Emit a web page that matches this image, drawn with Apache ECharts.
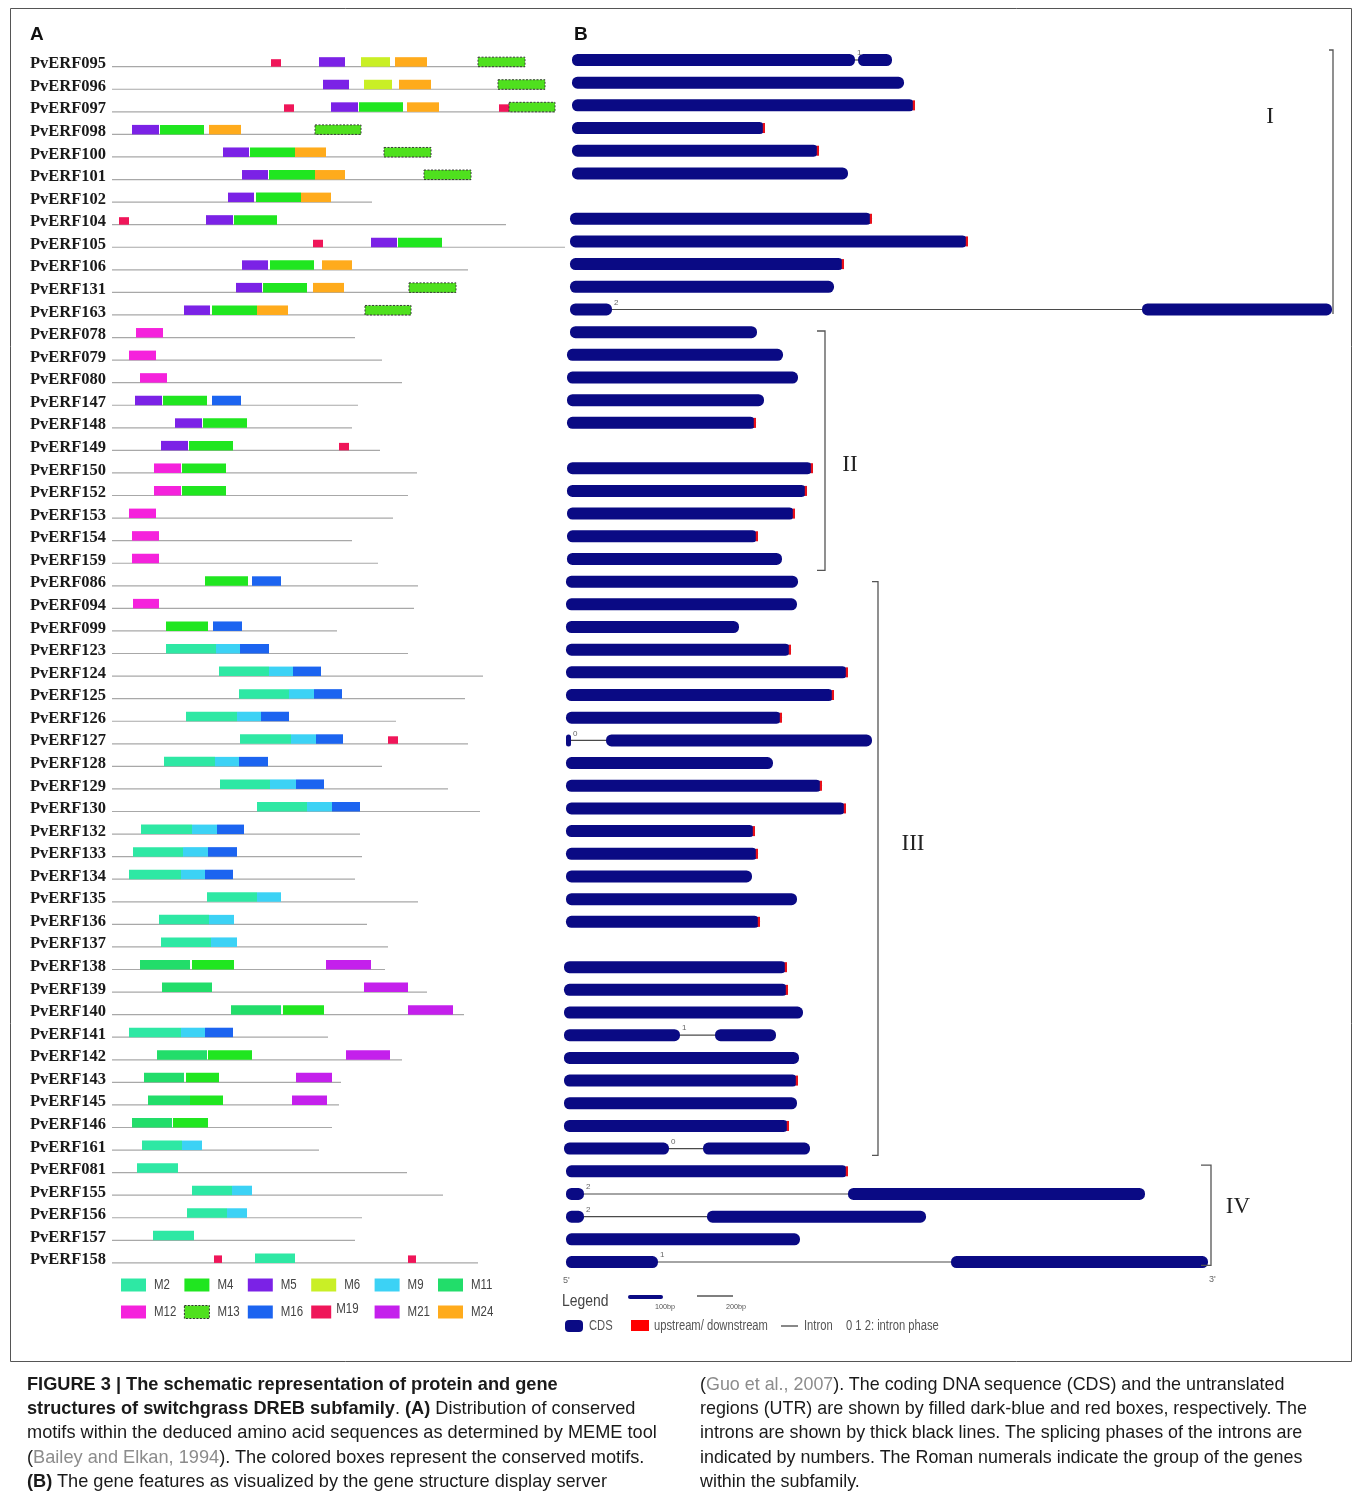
<!DOCTYPE html>
<html><head><meta charset="utf-8">
<script src="https://cdn.jsdelivr.net/npm/echarts@6/dist/echarts.min.js"></script>
<style>
html,body{margin:0;padding:0;background:#fff;}
#chart{position:absolute;left:0;top:0;width:1357px;height:1509px;}
.cap{position:absolute;font-family:'Liberation Sans',Arial,sans-serif;font-size:18.2px;color:#1a1a1a;white-space:nowrap;line-height:20px;}
.cap.r{font-size:17.9px;}
.cap b{font-weight:bold;}
.cap .ref{color:#8c8c8c;}
</style></head><body>
<div id="chart"></div>
<div class="cap" style="left:27px;top:1374px;"><b>FIGURE 3 | The schematic representation of protein and gene</b></div>
<div class="cap" style="left:27px;top:1398px;"><b>structures of switchgrass DREB subfamily</b>. <b>(A)</b> Distribution of conserved</div>
<div class="cap" style="left:27px;top:1422px;">motifs within the deduced amino acid sequences as determined by MEME tool</div>
<div class="cap" style="left:27px;top:1447px;">(<span class="ref">Bailey and Elkan, 1994</span>). The colored boxes represent the conserved motifs.</div>
<div class="cap" style="left:27px;top:1471px;"><b>(B)</b> The gene features as visualized by the gene structure display server</div>
<div class="cap r" style="left:700px;top:1374px;">(<span class="ref">Guo et al., 2007</span>). The coding DNA sequence (CDS) and the untranslated</div>
<div class="cap r" style="left:700px;top:1398px;">regions (UTR) are shown by filled dark-blue and red boxes, respectively. The</div>
<div class="cap r" style="left:700px;top:1422px;">introns are shown by thick black lines. The splicing phases of the introns are</div>
<div class="cap r" style="left:700px;top:1447px;">indicated by numbers. The Roman numerals indicate the group of the genes</div>
<div class="cap r" style="left:700px;top:1471px;">within the subfamily.</div>
<script>
const genes = ['PvERF095','PvERF096','PvERF097','PvERF098','PvERF100','PvERF101','PvERF102','PvERF104','PvERF105','PvERF106','PvERF131','PvERF163',
  'PvERF078','PvERF079','PvERF080','PvERF147','PvERF148','PvERF149','PvERF150','PvERF152','PvERF153','PvERF154','PvERF159',
  'PvERF086','PvERF094','PvERF099','PvERF123','PvERF124','PvERF125','PvERF126','PvERF127','PvERF128','PvERF129','PvERF130',
  'PvERF132','PvERF133','PvERF134','PvERF135','PvERF136','PvERF137','PvERF138','PvERF139','PvERF140','PvERF141','PvERF142',
  'PvERF143','PvERF145','PvERF146','PvERF161','PvERF081','PvERF155','PvERF156','PvERF157','PvERF158'];

// protein lengths (panel A scale)
const protLen = [413,433,443,249,319,359,260,394,453,356,344,299,
  243,270,290,246,240,268,305,296,281,240,266,
  306,302,225,296,371,353,284,356,270,336,368,
  248,250,243,306,255,276,273,315,352,216,290,
  229,227,220,207,295,331,250,243,366];

const motifNames = ['M2','M4','M5','M6','M9','M11','M12','M13','M16','M19','M21','M24'];
const motifColors = ['#2ee8a4','#20e620','#7b22e6','#c9ef26','#3cd2f5','#22dd6a','#f522dc','#4fe01e','#1c64f0','#ef1659','#c420ec','#ffab1c'];

// motifs per protein: [motif, start, end]
const motifs = [
  [['M19',159,169],['M5',207,233],['M6',249,278],['M24',283,315],['M13',366,413]],
  [['M5',211,237],['M6',252,280],['M24',287,319],['M13',386,433]],
  [['M19',172,182],['M5',219,246],['M4',247,291],['M24',295,327],['M19',387,397],['M13',397,443]],
  [['M5',20,47],['M4',48,92],['M24',97,129],['M13',203,249]],
  [['M5',111,137],['M4',138,183],['M24',183,214],['M13',272,319]],
  [['M5',130,156],['M4',157,203],['M24',203,233],['M13',312,359]],
  [['M5',116,142],['M4',144,189],['M24',189,219]],
  [['M19',7,17],['M5',94,121],['M4',122,165]],
  [['M19',201,211],['M5',259,285],['M4',286,330]],
  [['M5',130,156],['M4',158,202],['M24',210,240]],
  [['M5',124,150],['M4',151,195],['M24',201,232],['M13',297,344]],
  [['M5',72,98],['M4',100,145],['M24',145,176],['M13',253,299]],
  [['M12',24,51]],
  [['M12',17,44]],
  [['M12',28,55]],
  [['M5',23,50],['M4',51,95],['M16',100,129]],
  [['M5',63,90],['M4',91,135]],
  [['M5',49,76],['M4',77,121],['M19',227,237]],
  [['M12',42,69],['M4',70,114]],
  [['M12',42,69],['M4',70,114]],
  [['M12',17,44]],
  [['M12',20,47]],
  [['M12',20,47]],
  [['M4',93,136],['M16',140,169]],
  [['M12',21,47]],
  [['M4',54,96],['M16',101,130]],
  [['M2',54,104],['M9',104,128],['M16',128,157]],
  [['M2',107,157],['M9',157,181],['M16',181,209]],
  [['M2',127,177],['M9',177,202],['M16',202,230]],
  [['M2',74,125],['M9',125,149],['M16',149,177]],
  [['M2',128,179],['M9',179,204],['M16',204,231],['M19',276,286]],
  [['M2',52,103],['M9',103,127],['M16',127,156]],
  [['M2',108,158],['M9',158,184],['M16',184,212]],
  [['M2',145,195],['M9',195,220],['M16',220,248]],
  [['M2',29,80],['M9',80,105],['M16',105,132]],
  [['M2',21,71],['M9',71,96],['M16',96,125]],
  [['M2',17,69],['M9',69,93],['M16',93,121]],
  [['M2',95,145],['M9',145,169]],
  [['M2',47,97],['M9',97,122]],
  [['M2',49,99],['M9',99,125]],
  [['M11',28,78],['M4',80,122],['M21',214,259]],
  [['M11',50,100],['M21',252,296]],
  [['M11',119,169],['M4',171,212],['M21',296,341]],
  [['M2',17,69],['M9',69,93],['M16',93,121]],
  [['M11',45,95],['M4',96,140],['M21',234,278]],
  [['M11',32,72],['M4',74,107],['M21',184,220]],
  [['M11',36,78],['M4',78,111],['M21',180,215]],
  [['M11',20,60],['M4',61,96]],
  [['M2',30,70],['M9',70,90]],
  [['M2',25,66]],
  [['M2',80,120],['M9',120,140]],
  [['M2',75,115],['M9',115,135]],
  [['M2',41,82]],
  [['M19',102,110],['M2',143,183],['M19',296,304]]
];

// gene structures (panel B scale): exons [start, end]
const exons = [
  [[12,295],[298,332]],[[12,344]],[[12,355]],[[12,205]],[[12,259]],[[12,288]],[],[[10,312]],[[10,408]],[[10,284]],[[10,274]],[[10,52],[582,772]],
  [[10,197]],[[7,223]],[[7,238]],[[7,204]],[[7,196]],[],[[7,253]],[[7,247]],[[7,235]],[[7,198]],[[7,222]],
  [[6,238]],[[6,237]],[[6,179]],[[6,231]],[[6,288]],[[6,274]],[[6,222]],[[6,11],[46,312]],[[6,213]],[[6,262]],[[6,286]],
  [[6,195]],[[6,198]],[[6,192]],[[6,237]],[[6,200]],[],[[4,227]],[[4,228]],[[4,243]],[[4,120],[155,216]],[[4,239]],
  [[4,238]],[[4,237]],[[4,229]],[[4,109],[143,250]],[[6,288]],[[6,24],[288,585]],[[6,24],[147,366]],[[6,240]],[[6,98],[391,648]]
];
const phases = ['1','','','','','','','','','','','2',
  '','','','','','','','','','','',
  '','','','','','','','0','','','',
  '','','','','','','','','','1','',
  '','','','0','','2','2','','1'];
const utr3 = [0,0,1,1,1,0,0,1,1,1,0,0,
  0,0,0,0,1,0,1,1,1,1,0,
  0,0,0,1,1,1,1,0,0,1,1,
  1,1,0,0,1,0,1,1,0,0,0,
  1,0,1,0,1,0,0,0,0];

const groupNames = ['I','II','III','IV'];
const groupFirst = ['PvERF095','PvERF078','PvERF086','PvERF081'];
const groupLast = ['PvERF163','PvERF159','PvERF161','PvERF158'];
const groupX = [773,265,318,651];
const groupLabelX = [710,290,353,678];
const groupLabelRow = [2.51,17.86,34.57,50.57];

const legendRowsA = [['M2','M4','M5','M6','M9','M11'],['M12','M13','M16','M19','M21','M24']];

const NAVY = '#0a0a84';
const SANS = "'Liberation Sans',Arial,sans-serif";
const groupTopPad = [-0.44, -0.05, 0, -0.27];
const groupBotPad = [0.2, 0.5, 0.3, 0.15];
const groupTick = [4, 8, 6, 10];

const motifData = [];
motifs.forEach((list, i) => list.forEach(m => motifData.push([i, m[1], m[2], motifNames.indexOf(m[0])])));
const protData = protLen.map((l, i) => [i, 0, l]);
const geneData = [];
exons.forEach((e, i) => { if (e.length) geneData.push([i, e[0][0], e[e.length - 1][1]]); });
const groupData = groupNames.map((g, k) => [genes.indexOf(groupFirst[k]), genes.indexOf(groupLast[k]), groupX[k], groupLabelX[k], groupLabelRow[k], k]);

function renderProt(params, api) {
  const row = api.value(0);
  const a = api.coord([api.value(1), row]);
  const b = api.coord([api.value(2), row]);
  const y = a[1] + 2.7;
  return { type: 'line', shape: { x1: a[0], y1: y, x2: b[0], y2: y }, style: { stroke: '#a8a8a8', lineWidth: 1.2 } };
}
function renderMotif(params, api) {
  const row = api.value(0), m = api.value(3);
  const a = api.coord([api.value(1), row]);
  const b = api.coord([api.value(2), row]);
  const name = motifNames[m];
  const h = name === 'M19' ? 7.5 : 9.5;
  const bottom = a[1] + 2.7;
  const dashed = name === 'M13';
  return {
    type: 'rect',
    shape: { x: a[0], y: bottom - h, width: b[0] - a[0], height: h },
    style: { fill: motifColors[m], stroke: dashed ? '#3a3a3a' : null, lineWidth: dashed ? 1 : 0, lineDash: dashed ? [2, 1.5] : null }
  };
}
function renderGene(params, api) {
  const row = api.value(0);
  const ex = exons[row];
  const yc = api.coord([0, row])[1];
  const children = [];
  for (let k = 0; k < ex.length - 1; k++) {
    const a = api.coord([ex[k][1], row])[0], b = api.coord([ex[k + 1][0], row])[0];
    children.push({ type: 'line', shape: { x1: a, y1: yc, x2: b, y2: yc }, style: { stroke: '#4a4a4a', lineWidth: 1.2 } });
  }
  ex.forEach(e => {
    const a = api.coord([e[0], row])[0], b = api.coord([e[1], row])[0];
    const w = b - a;
    const r = Math.min(5.5, w / 2);
    children.push({ type: 'rect', shape: { x: a, y: yc - 6, width: w, height: 12, r: r }, style: { fill: NAVY } });
  });
  if (utr3[row]) {
    const e = ex[ex.length - 1];
    const b = api.coord([e[1], row])[0];
    children.push({ type: 'rect', shape: { x: b - 2.2, y: yc - 5, width: 2.2, height: 10 }, style: { fill: '#e8101a' } });
  }
  if (phases[row] && ex.length > 1) {
    const a = api.coord([ex[0][1], row])[0];
    children.push({ type: 'text', style: { text: phases[row], x: a + 2, y: yc - 3, fontSize: 8, fill: '#666', verticalAlign: 'bottom', fontFamily: SANS } });
  }
  return { type: 'group', children: children };
}
function rowY(api, r) {
  const base = Math.floor(r);
  const band = api.size([0, 1])[1];
  return api.coord([0, base])[1] + (r - base) * band;
}
function renderGroup(params, api) {
  const k = api.value(5);
  const x = api.coord([api.value(2), 0])[0];
  const band = api.size([0, 1])[1];
  const yTop = api.coord([0, api.value(0)])[1] + groupTopPad[k] * band;
  const yBot = api.coord([0, api.value(1)])[1] + groupBotPad[k] * band;
  const tick = groupTick[k];
  const lx = api.coord([api.value(3), 0])[0];
  const ly = rowY(api, api.value(4));
  const pts = k === 0 ? [[x - tick, yTop], [x, yTop], [x, yBot]] : [[x - tick, yTop], [x, yTop], [x, yBot], [x - tick, yBot]];
  return {
    type: 'group', children: [
      { type: 'polyline', shape: { points: pts }, style: { stroke: '#555', lineWidth: 1.3, fill: null } },
      { type: 'text', style: { text: groupNames[k], x: lx, y: ly, fontSize: 23, fontFamily: "'Liberation Serif','Times New Roman',serif", fill: '#222', align: 'center', verticalAlign: 'middle' } }
    ]
  };
}
function narrowText(text, x, y, size, fill, sx) {
  return { type: 'text', x: x, y: y, scaleX: sx || 0.86, style: { text: text, x: 0, y: 0, fontSize: size, fontFamily: SANS, fill: fill, verticalAlign: 'middle' } };
}

const graphic = [
  { type: 'rect', shape: { x: 10.5, y: 8.5, width: 1341, height: 1353 }, style: { fill: null, stroke: '#555', lineWidth: 1 }, silent: true, z: -10 },
  { type: 'text', style: { text: 'A', x: 30, y: 35, fontSize: 19, fontWeight: 'bold', fontFamily: SANS, fill: '#111', verticalAlign: 'middle' } },
  { type: 'text', style: { text: 'B', x: 574, y: 35, fontSize: 19, fontWeight: 'bold', fontFamily: SANS, fill: '#111', verticalAlign: 'middle' } }
];
legendRowsA.forEach((rowList, r) => {
  const yc = r === 0 ? 1285 : 1312;
  rowList.forEach((name, k) => {
    const m = motifNames.indexOf(name);
    const bx = 121 + 63.4 * k;
    const w = name === 'M19' ? 20 : 25;
    const dashed = name === 'M13';
    graphic.push({ type: 'rect', shape: { x: bx, y: yc - 6.5, width: w, height: 13 }, style: { fill: motifColors[m], stroke: dashed ? '#333' : null, lineWidth: dashed ? 1 : 0, lineDash: dashed ? [2, 1.5] : null } });
    graphic.push(narrowText(name, bx + (name === 'M19' ? 25 : 33), yc - (name === 'M19' ? 3 : 0), 14, '#444', 0.82));
  });
});
// panel B legend
graphic.push(
  narrowText("5'", 563, 1281, 9, '#666', 1),
  narrowText("3'", 1209, 1280, 9, '#666', 1),
  narrowText('Legend', 562, 1301, 17, '#444', 0.82),
  { type: 'line', shape: { x1: 630, y1: 1297, x2: 661, y2: 1297 }, style: { stroke: NAVY, lineWidth: 4, lineCap: 'round' } },
  narrowText('100bp', 655, 1307, 8, '#555', 0.9),
  { type: 'line', shape: { x1: 697, y1: 1296, x2: 733, y2: 1296 }, style: { stroke: '#555', lineWidth: 1.4 } },
  narrowText('200bp', 726, 1307, 8, '#555', 0.9),
  { type: 'rect', shape: { x: 565, y: 1320, width: 18, height: 12, r: 4 }, style: { fill: NAVY } },
  narrowText('CDS', 589, 1326, 14, '#555', 0.8),
  { type: 'rect', shape: { x: 631, y: 1320, width: 18, height: 11 }, style: { fill: '#ff0000' } },
  narrowText('upstream/ downstream', 654, 1326, 14, '#555', 0.8),
  { type: 'line', shape: { x1: 781, y1: 1326, x2: 798, y2: 1326 }, style: { stroke: '#555', lineWidth: 1.4 } },
  narrowText('Intron', 804, 1326, 14, '#555', 0.8),
  narrowText('0 1 2: intron phase', 846, 1326, 14, '#555', 0.8)
);

const chart = echarts.init(document.getElementById('chart'), null, { renderer: 'canvas' });
chart.setOption({
  animation: false,
  backgroundColor: '#fff',
  grid: [
    { left: 112, top: 52.7, width: 460, height: 1218.8 },
    { left: 560, top: 48.66, width: 780, height: 1224.7 }
  ],
  xAxis: [
    { type: 'value', gridIndex: 0, min: 0, max: 460, show: false },
    { type: 'value', gridIndex: 1, min: 0, max: 780, show: false }
  ],
  yAxis: [
    { type: 'category', gridIndex: 0, data: genes, inverse: true, axisLine: { show: false }, axisTick: { show: false }, splitLine: { show: false },
      axisLabel: { interval: 0, align: 'left', margin: 82, fontFamily: "'Liberation Serif','Times New Roman',serif", fontWeight: 'bold', fontSize: 16.5, color: '#1a1a1a' } },
    { type: 'category', gridIndex: 1, data: genes, inverse: true, show: false }
  ],
  series: [
    { type: 'custom', name: 'Protein', xAxisIndex: 0, yAxisIndex: 0, renderItem: renderProt, data: protData, encode: { x: [1, 2], y: 0 }, z: 1 },
    { type: 'custom', name: 'Motifs', xAxisIndex: 0, yAxisIndex: 0, renderItem: renderMotif, data: motifData, encode: { x: [1, 2], y: 0 }, z: 2 },
    { type: 'custom', name: 'Gene structure', xAxisIndex: 1, yAxisIndex: 1, renderItem: renderGene, data: geneData, encode: { x: [1, 2], y: 0 }, z: 3 },
    { type: 'custom', name: 'Groups', xAxisIndex: 1, yAxisIndex: 1, renderItem: renderGroup, data: groupData, encode: { x: 2, y: [0, 1] }, z: 4 }
  ],
  graphic: graphic
});
</script>
</body></html>
